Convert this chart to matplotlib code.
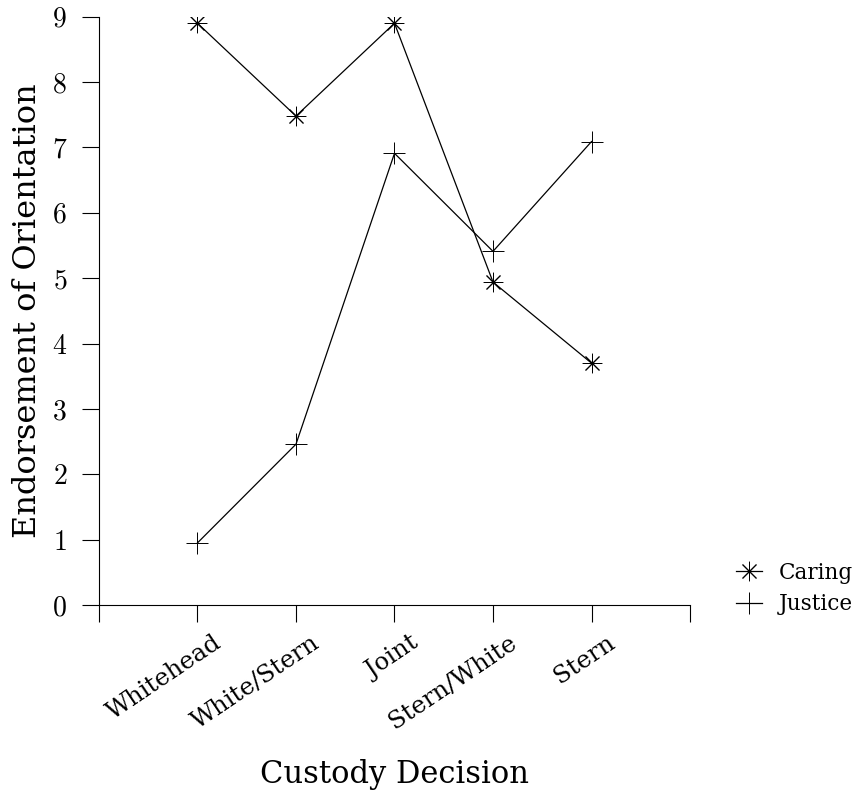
import matplotlib
matplotlib.use('Agg')
import matplotlib.pyplot as plt
import matplotlib.transforms as mtransforms

# custody decision categories and mean endorsement per orientation
decisions = ['Whitehead', 'White/Stern', 'Joint', 'Stern/White', 'Stern']
caring = [8.9, 7.48, 8.9, 4.94, 3.7]
justice = [0.95, 2.46, 6.91, 5.41, 7.09]

plt.rcParams['font.family'] = 'cmr10'
plt.rcParams['axes.formatter.use_mathtext'] = True

fig = plt.figure(figsize=(8.62, 7.95), dpi=100)
ax = fig.add_axes([0.1148, 0.239, 0.8005 - 0.1148, 0.979 - 0.239])

xs = list(range(1, len(decisions) + 1))
ax.plot(xs, caring, color='black', lw=0.9, marker=(8, 2, 0), ms=14, mew=0.7, label='Caring')
ax.plot(xs, justice, color='black', lw=0.9, marker='+', ms=16, mew=0.7, label='Justice')

ax.set_xlim(0, 6)
ax.set_ylim(0, 9)
ax.set_yticks(range(0, 10))
ax.set_xticks(range(0, 7))

for side in ['top', 'right']:
    ax.spines[side].set_visible(False)
for side in ['left', 'bottom']:
    ax.spines[side].set_linewidth(0.8)
ax.tick_params(direction='out', length=12, width=0.8, labelsize=20)
ax.tick_params(axis='x', pad=7)
ax.tick_params(axis='y', pad=11)

ax.set_xticklabels([''] + decisions + [''], rotation=34, ha='right', va='top',
                   rotation_mode='anchor', family='DejaVu Serif', fontsize=17.5)
# shift the slanted labels so they end just right of their ticks
offset = mtransforms.ScaledTranslation(11 / 72, 0, fig.dpi_scale_trans)
for lab in ax.get_xticklabels():
    lab.set_transform(lab.get_transform() + offset)

ax.set_ylabel('Endorsement of Orientation', fontsize=23, family='DejaVu Serif')
ax.yaxis.set_label_coords(-0.094, 0.5)
ax.set_xlabel('Custody Decision', fontsize=22, family='DejaVu Serif')
ax.xaxis.set_label_coords(0.5, -0.262)

fig.legend(loc='upper left', bbox_to_anchor=(0.831, 0.318), frameon=False,
           prop={'family': 'DejaVu Serif', 'size': 15.5}, handlelength=1.2,
           handletextpad=0.8, labelspacing=0.45)

fig.savefig('out.png', dpi=100, facecolor='white')
